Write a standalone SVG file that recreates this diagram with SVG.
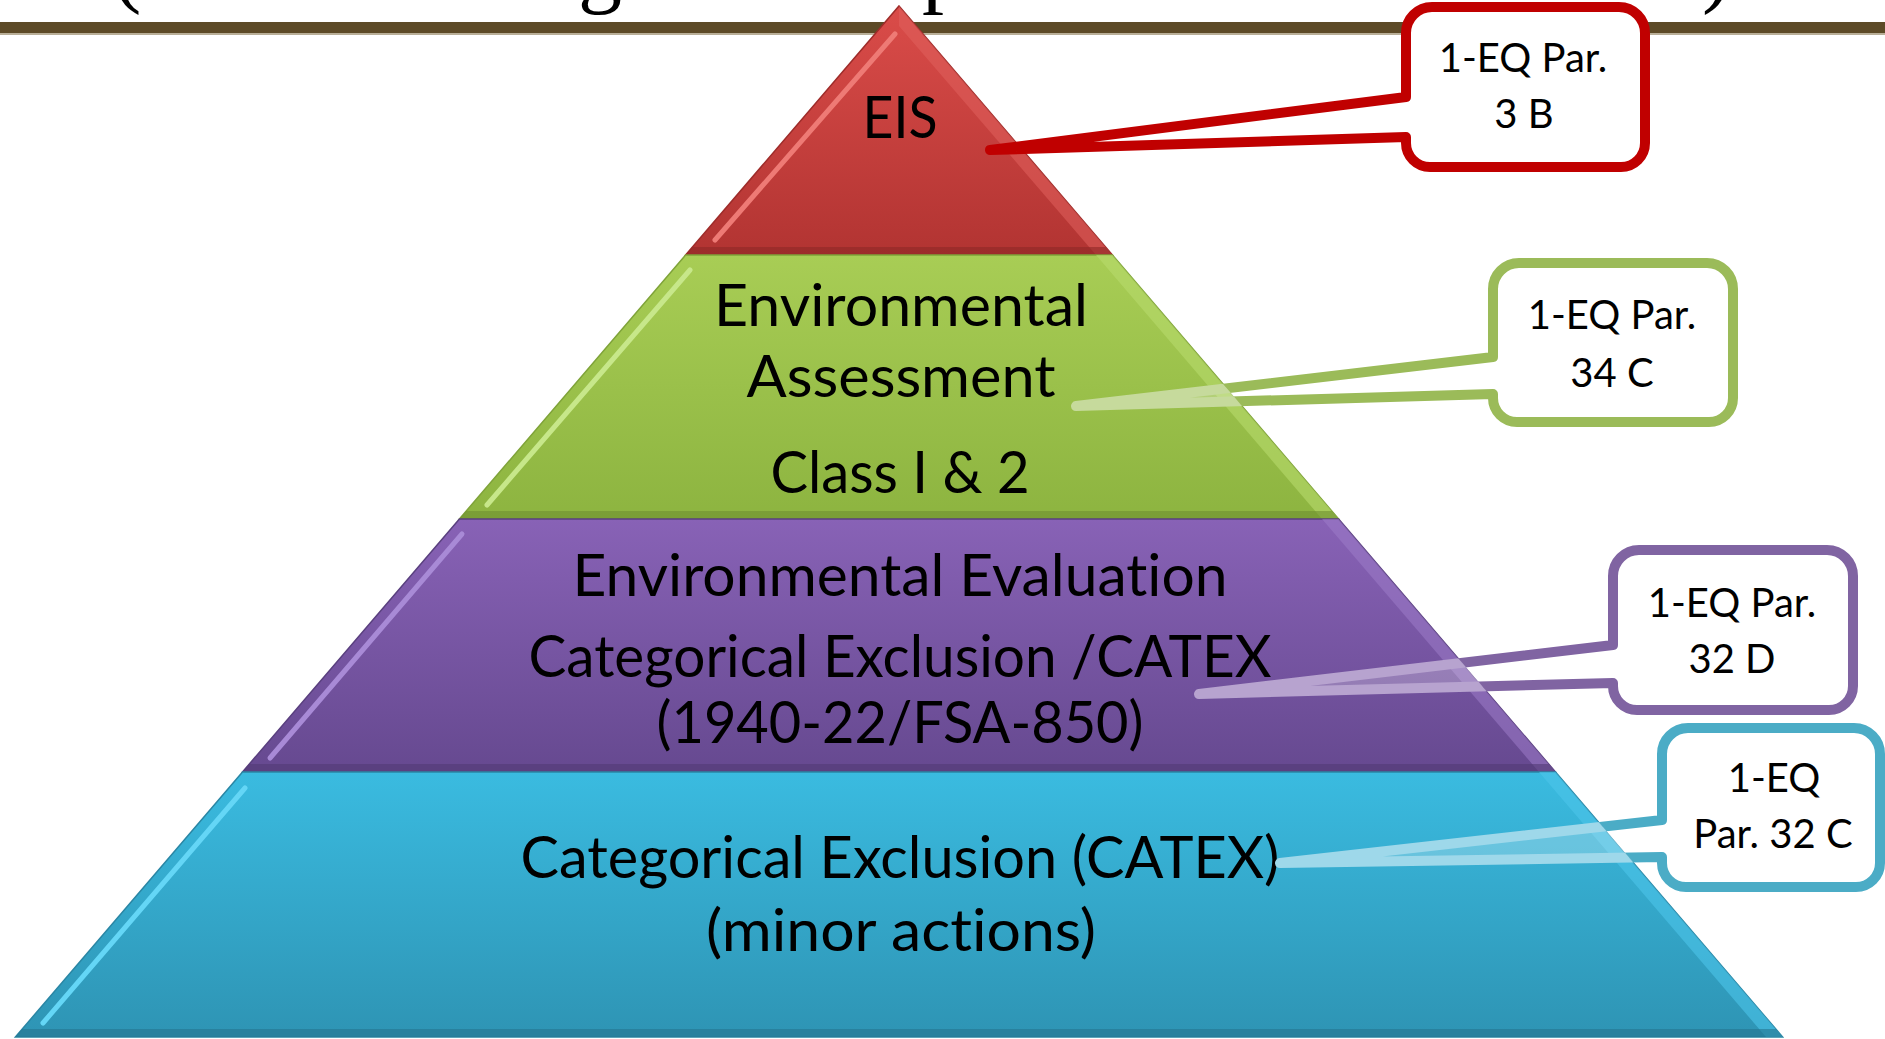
<svg xmlns="http://www.w3.org/2000/svg" width="1885" height="1039" viewBox="0 0 1885 1039">
  <style>
    .ttl { font-family: "Liberation Serif", "Times New Roman", serif; font-size: 88px; fill: #000; }
    .lvl { font-family: Lato, "Open Sans", "Liberation Sans", sans-serif; font-size: 58px; fill: #000; text-anchor: middle; font-variant-ligatures: none; }
    .co  { font-family: Lato, "Open Sans", "Liberation Sans", sans-serif; font-size: 40px; fill: #000; text-anchor: middle; font-variant-ligatures: none; }
    .hl  { fill: none; stroke-width: 5; stroke-linecap: round; }
    .box { fill: #fff; stroke-width: 10; stroke-linejoin: round; }
    .ptr { fill: #fff; fill-opacity: 0.25; stroke-width: 10; stroke-linejoin: round; }
  </style>
  <defs>
    <linearGradient id="gRed" x1="0" y1="0" x2="0" y2="1">
      <stop offset="0" stop-color="#DA4C49"/>
      <stop offset="1" stop-color="#B23432"/>
    </linearGradient>
    <linearGradient id="gGreen" x1="0" y1="0" x2="0" y2="1">
      <stop offset="0" stop-color="#A8CD55"/>
      <stop offset="1" stop-color="#8DB440"/>
    </linearGradient>
    <linearGradient id="gPurple" x1="0" y1="0" x2="0" y2="1">
      <stop offset="0" stop-color="#8862B6"/>
      <stop offset="1" stop-color="#664990"/>
    </linearGradient>
    <linearGradient id="gBlue" x1="0" y1="0" x2="0" y2="1">
      <stop offset="0" stop-color="#3ABBE0"/>
      <stop offset="1" stop-color="#2E94B4"/>
    </linearGradient>
    <clipPath id="pyrClip">
      <polygon points="899,6 1783,1037 15,1037"/>
    </clipPath>
    <mask id="outsidePyr" maskUnits="userSpaceOnUse" x="0" y="0" width="1885" height="1039">
      <rect x="0" y="0" width="1885" height="1039" fill="#fff"/>
      <polygon points="899,6 1783,1037 15,1037" fill="#000"/>
    </mask>
  </defs>

  <!-- heading rule with the descenders of the heading above it -->
  <g id="heading">
    <text class="ttl" x="112" y="-4">(</text>
    <text class="ttl" x="578" y="-4">g</text>
    <text class="ttl" x="922" y="-4">p</text>
    <text class="ttl" x="1702" y="-4">)</text>
    <rect x="0" y="22" width="1885" height="11" fill="#5D4A27"/>
    <rect x="0" y="33" width="1885" height="2" fill="#B9AF98"/>
  </g>

  <!-- pyramid levels, top to bottom -->
  <g id="level-eis">
    <polygon points="899,6 1112.4,255 685.6,255" fill="url(#gRed)" stroke="#9E2C2A" stroke-width="1.5"/>
    <polygon points="899,6 1112.4,255 1096,255 899,26" fill="#E0605C" opacity="0.55"/>
    <polygon points="692.5,247 1105.5,247 1112.4,255 685.6,255" fill="#8E2826" opacity="0.6"/>
    <line class="hl" x1="895" y1="34" x2="715" y2="240" stroke="#EE7A75"/>
    <text class="lvl" x="900" y="138" textLength="75" lengthAdjust="spacingAndGlyphs">EIS</text>
  </g>

  <g id="level-ea">
    <polygon points="685.6,255 1112.4,255 1338.6,519 459.4,519" fill="url(#gGreen)" stroke="#7FA339" stroke-width="1.5"/>
    <polygon points="1112.4,255 1338.6,519 1322,519 1096,255" fill="#B8DA6C" opacity="0.6"/>
    <polygon points="466.2,511 1331.8,511 1338.6,519 459.4,519" fill="#6E8F30" opacity="0.6"/>
    <line class="hl" x1="690" y1="270" x2="487" y2="505" stroke="#C7E78A"/>
    <text class="lvl" x="901" y="326" textLength="374" lengthAdjust="spacingAndGlyphs">Environmental</text>
    <text class="lvl" x="901" y="397" textLength="309" lengthAdjust="spacingAndGlyphs">Assessment</text>
    <text class="lvl" x="900" y="493" textLength="259" lengthAdjust="spacingAndGlyphs">Class I &amp; 2</text>
  </g>

  <g id="level-ee">
    <polygon points="459.4,519 1338.6,519 1555.5,772 242.5,772" fill="url(#gPurple)" stroke="#5A407F" stroke-width="1.5"/>
    <polygon points="1338.6,519 1555.5,772 1539,772 1322,519" fill="#9C7BC8" opacity="0.55"/>
    <polygon points="249.3,764 1548.7,764 1555.5,772 242.5,772" fill="#523A75" opacity="0.6"/>
    <line class="hl" x1="462" y1="534" x2="270" y2="758" stroke="#A88AD6"/>
    <text class="lvl" x="900" y="596" textLength="655" lengthAdjust="spacingAndGlyphs">Environmental Evaluation</text>
    <text class="lvl" x="900" y="677" textLength="743" lengthAdjust="spacingAndGlyphs">Categorical Exclusion /CATEX</text>
    <text class="lvl" x="900" y="743" textLength="487" lengthAdjust="spacingAndGlyphs">(1940-22/FSA-850)</text>
  </g>

  <g id="level-catex">
    <polygon points="242.5,772 1555.5,772 1782.6,1037 15.4,1037" fill="url(#gBlue)" stroke="#2A86A4" stroke-width="1.5"/>
    <polygon points="1555.5,772 1782.6,1037 1766,1037 1539,772" fill="#4CC4EA" opacity="0.6"/>
    <polygon points="22.2,1029 1775.8,1029 1782.6,1037 15.4,1037" fill="#24748F" opacity="0.6"/>
    <line class="hl" x1="245" y1="788" x2="43" y2="1023" stroke="#64D6F6"/>
    <text class="lvl" x="900" y="878" textLength="759" lengthAdjust="spacingAndGlyphs">Categorical Exclusion (CATEX)</text>
    <text class="lvl" x="901" y="951" textLength="390" lengthAdjust="spacingAndGlyphs">(minor actions)</text>
  </g>

  <!-- callouts: rounded boxes whose pointer reaches into a level -->
  <g id="callout-3b">
    <path class="box" stroke="#C00000" d="M1432,7 H1619 A26 26 0 0 1 1645,33 V143 A24 24 0 0 1 1621,167 H1430 A24 24 0 0 1 1406,143 V137 L990,150 L1406,97 V33 A26 26 0 0 1 1432,7 Z"/>
    <text class="co" x="1523" y="72">1-EQ Par.</text>
    <text class="co" x="1524" y="128">3 B</text>
  </g>

  <g id="callout-34c">
    <path class="box" stroke="#9BBB59" mask="url(#outsidePyr)" d="M1519,263 H1707 A26 26 0 0 1 1733,289 V398 A24 24 0 0 1 1709,422 H1517 A24 24 0 0 1 1493,398 V394 L1076,406 L1493,357 V289 A26 26 0 0 1 1519,263 Z"/>
    <text class="co" x="1612" y="329">1-EQ Par.</text>
    <text class="co" x="1612" y="387">34 C</text>
  </g>

  <g id="callout-32d">
    <path class="box" stroke="#8064A2" mask="url(#outsidePyr)" d="M1639,550 H1827 A26 26 0 0 1 1853,576 V686 A24 24 0 0 1 1829,710 H1637 A24 24 0 0 1 1613,686 V683 L1199,694 L1613,645 V576 A26 26 0 0 1 1639,550 Z"/>
    <text class="co" x="1732" y="617">1-EQ Par.</text>
    <text class="co" x="1732" y="673">32 D</text>
  </g>

  <g id="callout-32c">
    <path class="box" stroke="#4BACC6" mask="url(#outsidePyr)" d="M1688,728 H1854 A26 26 0 0 1 1880,754 V863 A24 24 0 0 1 1856,887 H1686 A24 24 0 0 1 1662,863 V857 L1280,863 L1662,820 V754 A26 26 0 0 1 1688,728 Z"/>
    <text class="co" x="1774" y="792">1-EQ</text>
    <text class="co" x="1773" y="848">Par. 32 C</text>
  </g>

  <!-- pointer segments lying over the pyramid, drawn in a paler tint -->
  <g id="connectors" clip-path="url(#pyrClip)">
    <path class="ptr" stroke="#C6DA9C" d="M1493,357 L1076,406 L1493,394"/>
    <path class="ptr" stroke="#B7A3CF" d="M1613,645 L1199,694 L1613,683"/>
    <path class="ptr" stroke="#9ED8EA" d="M1662,820 L1280,863 L1662,857"/>
  </g>
</svg>
